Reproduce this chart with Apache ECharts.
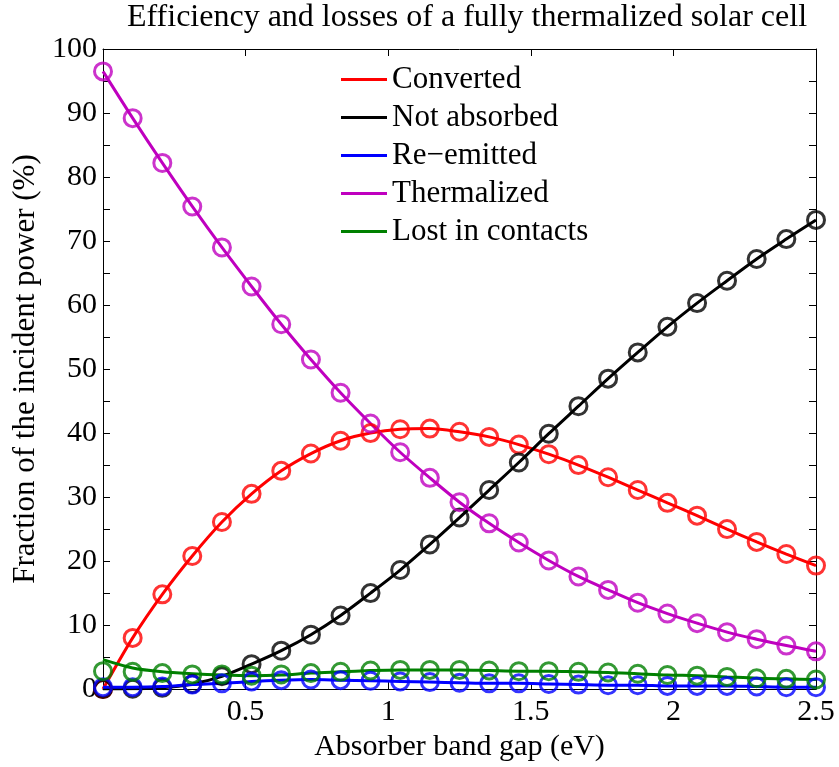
<!DOCTYPE html>
<html>
<head>
<meta charset="utf-8">
<script src="https://cdn.jsdelivr.net/npm/echarts@6/dist/echarts.min.js"></script>
<style>html,body{margin:0;padding:0;background:#fff}#c{width:839px;height:767px}</style>
</head>
<body>
<div id="c"></div>
<script>
// Absorber band gap (eV) sample points
const bandGap = [0, 0.104, 0.208, 0.313, 0.417, 0.521, 0.625, 0.729, 0.833, 0.938, 1.042, 1.146, 1.25, 1.354, 1.458, 1.563, 1.667, 1.771, 1.875, 1.979, 2.083, 2.188, 2.292, 2.396, 2.5];
const converted   = [0, 8.0, 14.8, 20.8, 26.1, 30.5, 34.1, 36.8, 38.8, 40.0, 40.6, 40.7, 40.2, 39.4, 38.2, 36.7, 35.0, 33.1, 31.1, 29.1, 27.1, 25.0, 23.0, 21.1, 19.3];
const notAbsorbed = [0, 0.05, 0.2, 0.8, 2.0, 3.9, 6.0, 8.5, 11.5, 15.0, 18.6, 22.6, 26.8, 31.1, 35.4, 39.9, 44.2, 48.5, 52.6, 56.6, 60.3, 63.8, 67.2, 70.3, 73.3];
const reEmitted   = [0.3, 0.3, 0.4, 0.7, 0.9, 1.2, 1.4, 1.5, 1.4, 1.3, 1.2, 1.1, 1.0, 0.9, 0.9, 0.8, 0.7, 0.6, 0.6, 0.5, 0.5, 0.5, 0.4, 0.3, 0.3];
const thermalized = [96.5, 89.2, 82.2, 75.4, 69.0, 62.9, 57.0, 51.5, 46.3, 41.5, 37.0, 33.0, 29.2, 25.9, 22.9, 20.1, 17.6, 15.5, 13.5, 11.8, 10.3, 8.9, 7.8, 6.8, 5.9];
const lostContactsMarkers = [2.8, 2.7, 2.5, 2.3, 2.3, 2.1, 2.3, 2.5, 2.7, 2.9, 3.0, 3.0, 3.0, 2.9, 2.8, 2.8, 2.7, 2.6, 2.4, 2.2, 2.1, 1.9, 1.7, 1.6, 1.5];
const lostContactsLine    = [4.6, 3.3, 2.7, 2.4, 2.2, 2.1, 2.2, 2.5, 2.7, 2.9, 3.0, 3.0, 3.0, 2.9, 2.8, 2.8, 2.7, 2.6, 2.4, 2.2, 2.1, 1.9, 1.7, 1.6, 1.5];
const seriesNames = ['Converted', 'Not absorbed', 'Re\u2212emitted', 'Thermalized', 'Lost in contacts'];
const seriesColors = ['#ff0000', '#000000', '#0000ff', '#bf00bf', '#008000'];
const xTicks = [0.5, 1, 1.5, 2, 2.5];

const FONT = '"Liberation Serif", "Times New Roman", serif';
const pair = arr => bandGap.map((x, i) => [x, arr[i]]);
const lineData = [converted, notAbsorbed, reEmitted, thermalized, lostContactsLine];
const markData = [converted, notAbsorbed, reEmitted, thermalized, lostContactsMarkers];

const series = [];
seriesNames.forEach((n, k) => {
  series.push({
    name: n, type: 'line', data: pair(lineData[k]), symbol: 'none', smooth: 0.3,
    lineStyle: {color: seriesColors[k], width: 3}, itemStyle: {color: seriesColors[k]},
    z: 2, silent: true, animation: false
  });
});
seriesNames.forEach((n, k) => {
  series.push({
    name: n + ' markers', type: 'scatter', data: pair(markData[k]), symbol: 'circle', symbolSize: 17,
    itemStyle: {color: 'rgba(0,0,0,0)', borderColor: seriesColors[k], borderWidth: 3},
    z: 3, silent: true, animation: false
  });
});

const chart = echarts.init(document.getElementById('c'), null, {renderer: 'canvas'});
const axisCommon = {
  axisLine: {show: true, onZero: false, lineStyle: {color: '#000', width: 1}},
  axisTick: {show: true, inside: true, length: 7, lineStyle: {color: '#000'}},
  splitLine: {show: false}
};
chart.setOption({
  animation: false,
  backgroundColor: '#fff',
  title: {
    text: 'Efficiency and losses of a fully thermalized solar cell',
    left: 462, top: -3, textAlign: 'center',
    textStyle: {fontFamily: FONT, fontSize: 32, fontWeight: 'normal', color: '#000'}
  },
  legend: {
    data: seriesNames.map(n => ({name: n, icon: 'rect'})), orient: 'vertical', left: 336, top: 59,
    itemWidth: 46, itemHeight: 3, itemGap: 7,
    textStyle: {fontFamily: FONT, fontSize: 31, color: '#000', lineHeight: 30}
  },
  grid: {left: 103, right: 23, top: 49, bottom: 70, containLabel: false},
  xAxis: [
    Object.assign({
      type: 'value', min: 0, max: 2.5, interval: 0.5, position: 'bottom',
      name: 'Absorber band gap (eV)', nameLocation: 'middle', nameGap: 40,
      nameTextStyle: {fontFamily: FONT, fontSize: 30, color: '#000'},
      axisLabel: {fontFamily: FONT, fontSize: 30, color: '#000', margin: 8,
        formatter: v => (xTicks.indexOf(v) >= 0 ? String(v) : '')}
    }, axisCommon),
    Object.assign({
      type: 'value', min: 0, max: 2.5, interval: 0.5, position: 'top',
      axisLabel: {show: false}
    }, axisCommon)
  ],
  yAxis: [
    Object.assign({
      type: 'value', min: 0, max: 100, interval: 5, position: 'left',
      name: 'Fraction of the incident power (%)', nameLocation: 'middle', nameGap: 59,
      nameTextStyle: {fontFamily: FONT, fontSize: 31, color: '#000'},
      axisLabel: {fontFamily: FONT, fontSize: 30, color: '#000', margin: 6,
        formatter: v => (v % 10 === 0 ? String(v) : '')}
    }, axisCommon),
    Object.assign({
      type: 'value', min: 0, max: 100, interval: 5, position: 'right',
      axisLabel: {show: false}
    }, axisCommon)
  ],
  series: series
});
</script>
</body>
</html>
